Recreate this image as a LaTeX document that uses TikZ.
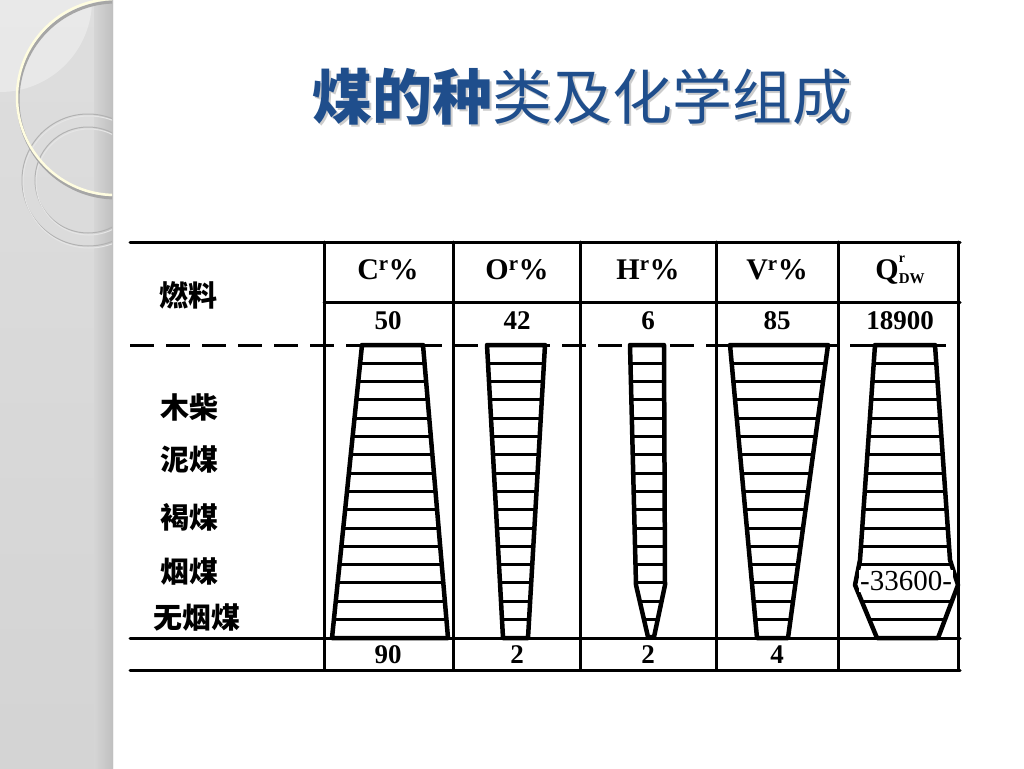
\documentclass[tikz,border=0pt]{standalone}
\usepackage{fontspec}
\setmainfont{Liberation Serif}
\newfontfamily\cjk{Noto Sans CJK SC}
\definecolor{ttlblue}{HTML}{1F4E8C}

\begin{document}
\begin{tikzpicture}[x=1pt, y=-1pt,
	rule/.style={line width=3pt, line cap=round},
	outline/.style={line width=4.5pt, line join=round},
	hatch/.style={line width=3pt},
	hdtext/.style={font=\fontsize{30}{30}\selectfont\bfseries},
	numtext/.style={font=\fontsize{27}{27}\selectfont\bfseries},
	rowtext/.style={font=\cjk\fontsize{29}{29}\selectfont\bfseries}]
	\useasboundingbox (0,0) rectangle (1024,768);
	\fill[white] (0,0) rectangle (1024,768);
	\shade[top color=gray!26, bottom color=gray!34] (0,0) rectangle (113,768);
	\shade[left color=gray!33, right color=gray!50] (94,0) rectangle (113,768);
	\begin{scope}
		\clip (0,0) rectangle (112,768);
		\fill[white, opacity=0.35] (0,0) circle (92pt);
		\draw[gray!60, line width=1pt] (88,180) circle (66pt) (88,180) circle (53pt);
		\draw[white!80!gray, line width=1pt] (89,182) circle (66pt) (89,182) circle (53pt);
		\draw[gray!70, line width=3pt] (116,100) circle (98pt);
		\draw[white!88!yellow, line width=2.5pt] (115,97) circle (98pt);
	\end{scope}
	\node[font=\cjk\fontsize{60}{60}\selectfont, text=gray!40] at (584,99) {{\bfseries 煤的种}类及化学组成};
	\node[font=\cjk\fontsize{60}{60}\selectfont, text=ttlblue] (ttl) at (582,97) {{\bfseries 煤的种}类及化学组成};
	\draw[rule] (130,242) -- (960,242);
	\draw[rule] (324,302) -- (960,302);
	\draw[rule, line cap=butt, dash pattern=on 24pt off 12pt] (130,345) -- (960,345);
	\draw[rule] (130,638) -- (960,638);
	\draw[rule] (130,670) -- (960,670);
	\foreach \x in {324,453,580,716,838,958}
		\draw[rule] (\x,242) -- (\x,670);
	\foreach \shp/\gap in {{(362,345)--(423,345)--(448,638)--(332,638)--cycle}/0,
		{(487,345)--(545,345)--(528,638)--(503,638)--cycle}/0,
		{(630,345)--(664,345)--(665,585)--(654,637)--(648,637)--(636,585)--cycle}/0,
		{(730,345)--(828,345)--(788,638)--(757,638)--cycle}/0,
		{(875,345)--(935,345)--(950,560)--(958,585)--(938,638)--(877,638)--(855,585)--(860,560)--cycle}/13} {
		\begin{scope}
			\clip \shp;
			\foreach \k in {1,...,15} {
				\ifnum\k=\gap\else
					\draw[hatch] (300,{345+\k*18.3}) -- (980,{345+\k*18.3});
				\fi
			}
		\end{scope}
		\draw[outline] \shp;
	}
	\node[fill=white, inner sep=1pt, font=\fontsize{29}{29}\selectfont] (qmid) at (906,581) {-33600-};
	\foreach \cx/\hd/\tv/\bv [count=\i] in {388/{C\textsuperscript{r}\%}/50/90,
		517/{O\textsuperscript{r}\%}/42/2,
		648/{H\textsuperscript{r}\%}/6/2,
		777/{V\textsuperscript{r}\%}/85/4,
		900/{Q\rlap{\raisebox{1.2ex}{\fontsize{14}{14}\selectfont r}}\raisebox{-0.3ex}{\fontsize{15}{15}\selectfont DW}}/18900/{}} {
		\node[hdtext] (hd\i) at (\cx,270) {\hd};
		\node[numtext] (tv\i) at (\cx,321) {\tv};
		\node[numtext] (bv\i) at (\cx,655) {\bv};
	}
	\node[rowtext] (fuel) at (188,295) {燃料};
	\foreach \ry/\rt [count=\j] in {407/木柴, 460/泥煤, 517/褐煤, 572/烟煤}
		\node[rowtext] (row\j) at (189,\ry) {\rt};
	\node[rowtext] (row5) at (197,617) {无烟煤};
\end{tikzpicture}
\end{document}
